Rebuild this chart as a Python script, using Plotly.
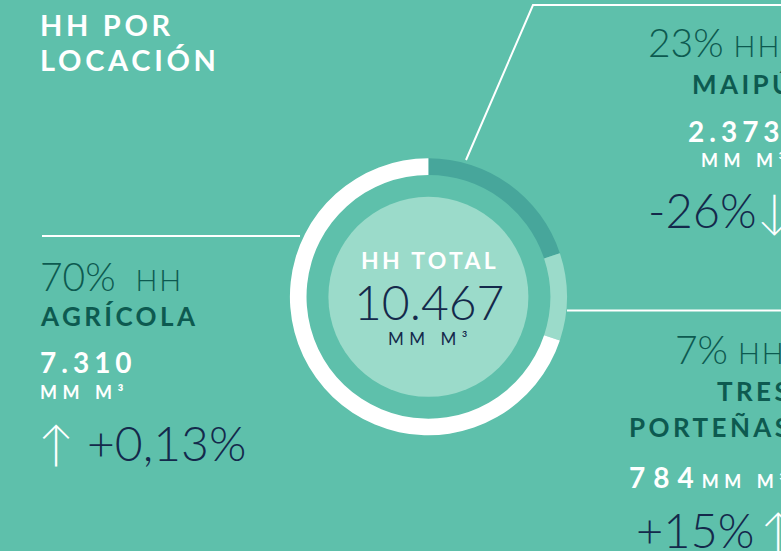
import plotly.graph_objects as go

W, H = 781, 551

# ---- data ----
segments = ["Maipú", "Tres Porteñas", "Agrícola"]
arc_share_pct = [19.9, 10.2, 69.9]          # arc sizes as drawn in the ring (clockwise from 12 o'clock)
volumes_mm_m3 = ["2.373", "784", "7.310"]
share_labels = ["23%", "7%", "70%"]
changes = ["-26%", "+15%", "+0,13%"]
total_label = "10.467"

BG = "#5ec0ab"
DARK = "#47a69b"
LIGHT = "#9bdbca"
WHITE = "#ffffff"
GREEN = "#0d5a50"
NAVY = "#14294b"
FONT = "Lato"

def X(px):
    return px / W

def Y(py):
    return 1 - py / H

cx, cy, R = 428.4, 296.8, 138.5
inner_r = 100

fig = go.Figure()
fig.add_trace(go.Pie(
    labels=segments,
    values=arc_share_pct,
    marker=dict(colors=[DARK, LIGHT, WHITE], line=dict(width=0)),
    hole=0.88,
    sort=False,
    direction="clockwise",
    rotation=0,
    textinfo="none",
    hoverinfo="label",
    showlegend=False,
    domain=dict(x=[X(cx - R), X(cx + R)], y=[Y(cy + R), Y(cy - R)]),
))

shapes = [
    dict(type="circle", xref="paper", yref="paper",
         x0=X(cx - inner_r), x1=X(cx + inner_r), y0=Y(cy + inner_r), y1=Y(cy - inner_r),
         fillcolor=LIGHT, line=dict(width=0), layer="above"),
    dict(type="line", xref="paper", yref="paper", x0=X(42), x1=X(300), y0=Y(236), y1=Y(236),
         line=dict(color=WHITE, width=2)),
    dict(type="path", xref="paper", yref="paper",
         path=f"M {X(466)} {Y(160)} L {X(533)} {Y(5)} L {X(800)} {Y(5)}",
         line=dict(color=WHITE, width=2)),
    dict(type="line", xref="paper", yref="paper", x0=X(567), x1=X(800), y0=Y(310.5), y1=Y(310.5),
         line=dict(color=WHITE, width=2)),
]

anns = []

def add(text, x, y, size, color, weight=400, xanchor="left", ls=0):
    if ls:
        text = f'<span style="letter-spacing:{ls}px">{text}</span>'
    anns.append(dict(text=text, x=X(x), y=Y(y), xref="paper", yref="paper",
                     xanchor=xanchor, yanchor="middle", showarrow=False,
                     font=dict(family=FONT, size=size, color=color, weight=weight)))

def share(p, wide=True):
    gap = "  " if wide else " "
    return (f'<span style="font-size:39px">{p}</span>'
            f'<span style="letter-spacing:2px">{gap}HH</span>')

# title
add("HH POR", 38, 24, 29, WHITE, 700, ls=3.7)
add("LOCACIÓN", 38, 59, 29, WHITE, 700, ls=3.7)

# left block (Agrícola)
add(share(share_labels[2]), 38, 276, 29, GREEN, 300)
add("AGRÍCOLA", 38, 316, 26, GREEN, 700, ls=3.4)
add(volumes_mm_m3[2], 38, 362, 28, WHITE, 700, ls=5)
add("MM M³", 38, 392, 18, WHITE, 700, ls=5.5)
add(f'<span style="color:{WHITE}">↑</span> {changes[2]}', 36, 442, 48, NAVY, 300)

# center
add("HH TOTAL", cx + 1.5, 260, 23, WHITE, 700, xanchor="center", ls=3.3)
add(total_label, cx + 1, 301, 48, NAVY, 300, xanchor="center")
add("MM M³", cx + 2.5, 338, 17, NAVY, 400, xanchor="center", ls=5.5)

# right top (Maipú)
add(share(share_labels[0], wide=False), 646, 42, 29, GREEN, 300)
add("MAIPÚ", 690, 84, 26, GREEN, 700, ls=3.4)
add(volumes_mm_m3[0], 686, 131, 28, WHITE, 700, ls=5)
add("MM M³", 699, 160, 18, WHITE, 700, ls=5.5)
add(f'{changes[0]}<span style="color:{WHITE}">↓</span>', 646, 210, 47, NAVY, 300)

# right bottom (Tres Porteñas)
add(share(share_labels[1], wide=False), 673, 349, 29, GREEN, 300)
add("TRES", 715, 391, 26, GREEN, 700, ls=3.4)
add("PORTEÑAS", 627, 427, 26, GREEN, 700, ls=3.4)
add(f'<span style="letter-spacing:8px">{volumes_mm_m3[1]}</span><span style="font-size:18px;letter-spacing:5.5px">MM M³</span>',
    627, 477, 28, WHITE, 700)
add(f'{changes[1]}<span style="color:{WHITE}">\u2009↑</span>', 634, 530, 47, NAVY, 300)

fig.update_layout(
    width=W, height=H,
    margin=dict(l=0, r=0, t=0, b=0),
    paper_bgcolor=BG, plot_bgcolor=BG,
    shapes=shapes, annotations=anns,
    showlegend=False,
)

fig.write_html("out.html", config={"displayModeBar": False},
               post_script="document.body.style.margin='0';document.body.style.overflow='hidden';"
                           f"document.body.style.background='{BG}';")
